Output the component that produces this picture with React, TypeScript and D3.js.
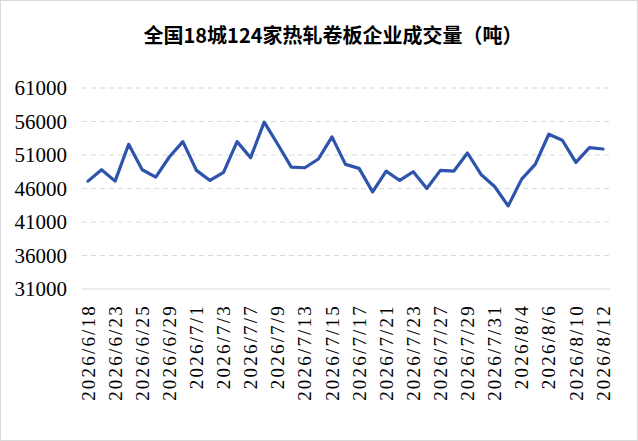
import React, { useEffect, useRef } from 'react';
import * as d3 from 'd3';

const dates = [
  '2026/6/18', '2026/6/22', '2026/6/23', '2026/6/24', '2026/6/25', '2026/6/26',
  '2026/6/29', '2026/6/30', '2026/7/1', '2026/7/2', '2026/7/3', '2026/7/6',
  '2026/7/7', '2026/7/8', '2026/7/9', '2026/7/10', '2026/7/13', '2026/7/14',
  '2026/7/15', '2026/7/16', '2026/7/17', '2026/7/20', '2026/7/21', '2026/7/22',
  '2026/7/23', '2026/7/24', '2026/7/27', '2026/7/28', '2026/7/29', '2026/7/30',
  '2026/7/31', '2026/8/3', '2026/8/4', '2026/8/5', '2026/8/6', '2026/8/7',
  '2026/8/10', '2026/8/11', '2026/8/12'
];

const volume = [
  47100, 48800, 47100, 52600, 48800, 47700, 50700, 53000, 48700, 47200,
  48400, 53000, 50600, 55900, 52600, 49200, 49100, 50400, 53700, 49600,
  49000, 45500, 48600, 47200, 48500, 46000, 48700, 48600, 51300, 48100,
  46300, 43400, 47400, 49600, 54100, 53200, 49900, 52100, 51900
];

const yTicks = [31000, 36000, 41000, 46000, 51000, 56000, 61000];

const title = '全国18城124家热轧卷板企业成交量（吨）';

const width = 638;
const height = 441;
const serif = "'Liberation Serif', 'DejaVu Serif', serif";

export default function App() {
  const svgRef = useRef<SVGSVGElement>(null);

  useEffect(() => {
    if (!svgRef.current) return;
    const svg = d3.select(svgRef.current);
    svg.selectAll('*').remove();

    svg.append('rect')
      .attr('x', 0.5).attr('y', 0.5)
      .attr('width', width - 1).attr('height', height - 1)
      .attr('fill', '#fff')
      .attr('stroke', '#d9d9d9');

    const x = d3.scalePoint<string>().domain(dates).range([88, 603]);
    const y = d3.scaleLinear().domain([31000, 61000]).range([289, 88]);

    // grid
    svg.append('g')
      .selectAll('line')
      .data(yTicks)
      .enter()
      .append('line')
      .attr('x1', 82).attr('x2', 610)
      .attr('y1', d => y(d)).attr('y2', d => y(d))
      .attr('stroke', '#d9d9d9')
      .attr('stroke-width', 1)
      .attr('stroke-dasharray', d => (d === 31000 ? null : '5,4'));

    // y labels
    svg.append('g')
      .selectAll('text')
      .data(yTicks)
      .enter()
      .append('text')
      .attr('x', 67)
      .attr('y', d => y(d))
      .attr('dy', '0.35em')
      .attr('text-anchor', 'end')
      .style('font-family', serif)
      .style('font-size', '21px')
      .attr('fill', '#000')
      .text(d => d);

    // x labels, every other date
    svg.append('g')
      .selectAll('text')
      .data(dates.filter((_, i) => i % 2 === 0))
      .enter()
      .append('text')
      .attr('transform', d => `translate(${x(d)},304) rotate(-90)`)
      .attr('dy', '0.35em')
      .attr('text-anchor', 'end')
      .style('font-family', serif)
      .style('font-size', '19px')
      .style('letter-spacing', '2.2px')
      .attr('fill', '#000')
      .text(d => d);

    const line = d3.line<number>()
      .x((_, i) => x(dates[i]) || 0)
      .y(d => y(d));

    svg.append('path')
      .datum(volume)
      .attr('d', line)
      .attr('fill', 'none')
      .attr('stroke', '#2d53ad')
      .attr('stroke-width', 3.2)
      .attr('stroke-linejoin', 'round')
      .attr('stroke-linecap', 'round');

    svg.append('text')
      .attr('x', 333)
      .attr('y', 36)
      .attr('dy', '0.35em')
      .attr('text-anchor', 'middle')
      .style('font-family', "'Noto Sans CJK SC', sans-serif")
      .style('font-weight', 'bold')
      .style('font-size', '20px')
      .attr('fill', '#000')
      .text(title);
  }, []);

  return (
    <div style={{ position: 'absolute', left: 0, top: 0 }}>
      <svg ref={svgRef} width={width} height={height} style={{ display: 'block' }} />
    </div>
  );
}
